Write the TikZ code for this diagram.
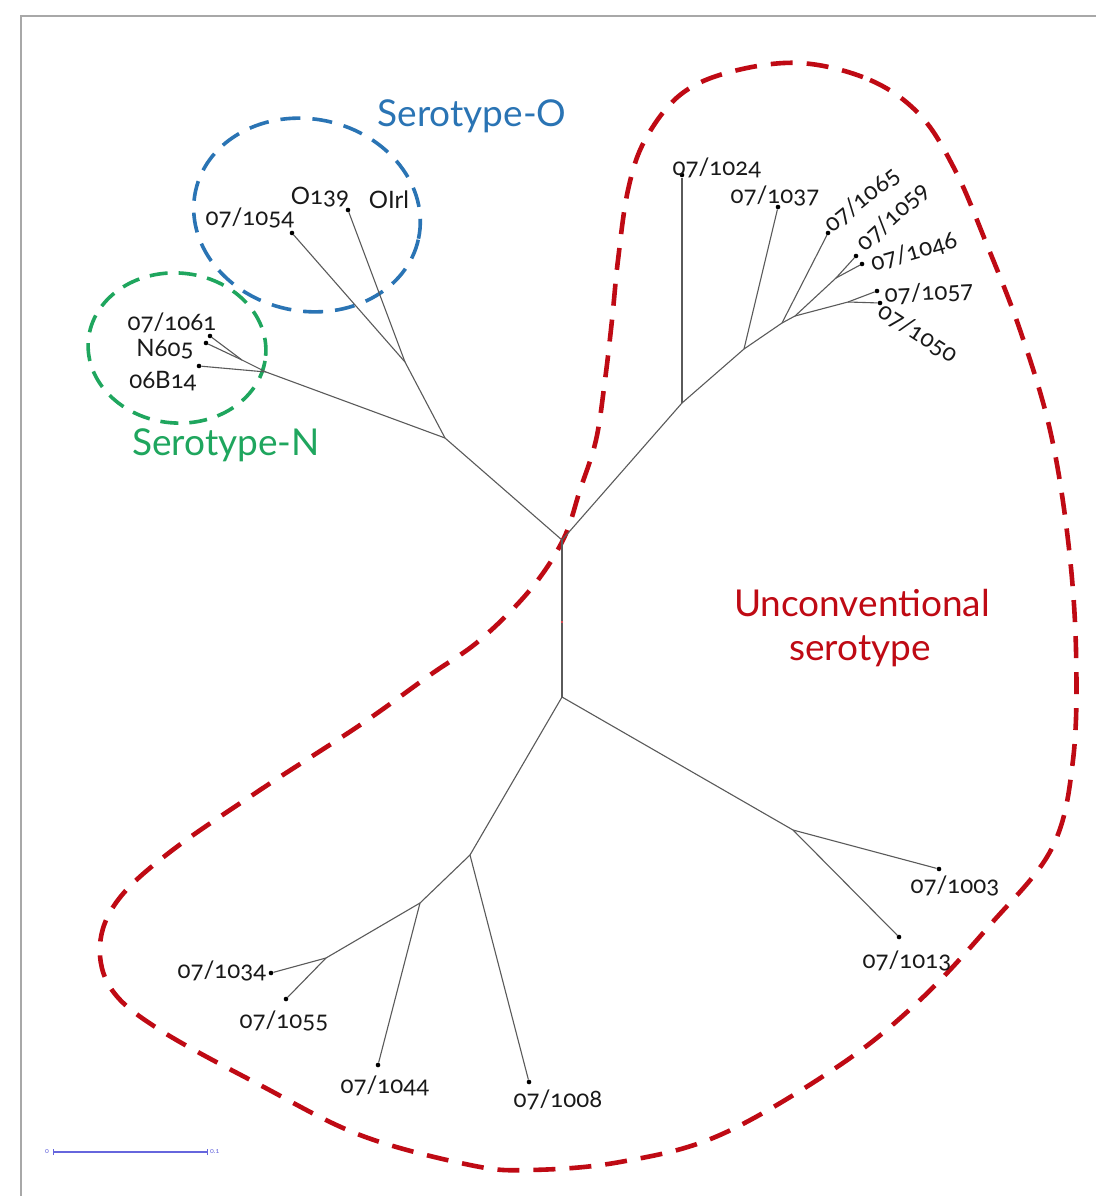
\documentclass[tikz,border=0pt]{standalone}
\usepackage{fontspec}
\setmainfont{Lato}[Numbers=OldStyle]
\definecolor{treegray}{HTML}{5A5A5A}
\definecolor{serO}{HTML}{2A74B4}
\definecolor{serN}{HTML}{1FA65E}
\definecolor{serU}{HTML}{BF0A14}
\definecolor{scaleblue}{HTML}{6666DD}
\definecolor{framegray}{HTML}{A8A8A8}
\begin{document}
\begin{tikzpicture}[x=1pt,y=-1pt,
  branch/.style={draw=treegray, line width=1.1pt},
  leaf/.style={circle, fill=black, inner sep=0pt, minimum size=4.6pt},
  lab/.style={font=\fontsize{24}{24}\selectfont, inner sep=0pt, text=black!90},
  grp/.style={font=\fontsize{37}{37}\selectfont, inner sep=0pt},
  ringO/.style={draw=serO, line width=3.6pt, dash pattern=on 20pt off 12pt},
  ringN/.style={draw=serN, line width=3.6pt, dash pattern=on 18pt off 11pt},
  ringU/.style={draw=serU, line width=4.6pt, dash pattern=on 22pt off 14pt}]
\useasboundingbox (0,0) rectangle (1096,1196);
\fill[white] (0,0) rectangle (1096,1196);
% frame
\draw[framegray, line width=2pt] (21,1196) -- (21,16) -- (1096,16);

% group outlines
\draw[ringO, rotate around={-12:(307,215)}] (307,215) ellipse [x radius=114pt, y radius=96pt];
\draw[ringN, rotate around={-5:(177,348)}] (177,348) ellipse [x radius=89pt, y radius=75pt];
\draw[ringU] plot[smooth cycle, tension=0.6] coordinates {
 (800,63) (870,80) (920,115) (955,170) (985,240) (1020,330) (1050,430)
 (1068,540) (1076,650) (1073,760) (1052,848) (990,925) (920,1000)
 (840,1065) (720,1135) (620,1162) (530,1170) (470,1165) (360,1135) (260,1085)
 (160,1030) (112,990) (100,945) (118,900) (170,852) (260,790) (360,725)
 (430,675) (480,640) (530,590) (563,540) (580,490) (596,440) (605,380)
 (612,320) (618,260) (628,190) (645,140) (680,95) (730,72)};

% internal coordinates
\coordinate (A) at (562,540);
\coordinate (B) at (562,697);
\coordinate (C) at (445,438);
\coordinate (D) at (405,362);
\coordinate (E) at (266,372);
\coordinate (F) at (242,360);
\coordinate (G) at (682,403);
\coordinate (H) at (744,349);
\coordinate (I) at (782,323);
\coordinate (J) at (795,316);
\coordinate (K) at (836,278);
\coordinate (L) at (848,302);
\coordinate (M) at (793,830);
\coordinate (N) at (470,855);
\coordinate (O) at (420,903);
\coordinate (P) at (326,958);

% leaves
\node[leaf] (l1054) at (292,233) {};
\node[leaf] (lOIrl) at (348,210) {};
\node[leaf] (l1061) at (210,336) {};
\node[leaf] (lN605) at (206,343) {};
\node[leaf] (l06B14) at (199,366) {};
\node[leaf] (l1024) at (682,175) {};
\node[leaf] (l1037) at (778,207) {};
\node[leaf] (l1065) at (828,233) {};
\node[leaf] (l1059) at (856,256) {};
\node[leaf] (l1046) at (862,264) {};
\node[leaf] (l1057) at (877,291) {};
\node[leaf] (l1050) at (880,303) {};
\node[leaf] (l1003) at (939,869) {};
\node[leaf] (l1013) at (899,937) {};
\node[leaf] (l1008) at (529,1082) {};
\node[leaf] (l1044) at (378,1065) {};
\node[leaf] (l1034) at (271,973) {};
\node[leaf] (l1055) at (286,999) {};
\node[circle, fill=serU, inner sep=0pt, minimum size=2.2pt] (R) at (562,622) {};

% branches
\draw[branch] (A) -- (R) -- (B);
\draw[branch] (A) -- (C) -- (D) -- (l1054);
\draw[branch] (D) -- (lOIrl);
\draw[branch] (C) -- (E) -- (l06B14);
\draw[branch] (E) -- (F) -- (l1061);
\draw[branch] (F) -- (lN605);
\draw[branch] (A) -- (G) -- (H) -- (I) -- (J);
\draw[branch] (G) -- (l1024);
\draw[branch] (H) -- (l1037);
\draw[branch] (I) -- (l1065);
\draw[branch] (J) -- (K) -- (l1059);
\draw[branch] (K) -- (l1046);
\draw[branch] (J) -- (L) -- (l1057);
\draw[branch] (L) -- (l1050);
\draw[branch] (B) -- (M) -- (l1003);
\draw[branch] (M) -- (l1013);
\draw[branch] (B) -- (N) -- (l1008);
\draw[branch] (N) -- (O) -- (l1044);
\draw[branch] (O) -- (P) -- (l1034);
\draw[branch] (P) -- (l1055);

% leaf labels
\node[lab] (t1054) at (250,218) {07/1054};
\node[lab] (tO139) at (320,197) {O139};
\node[lab] (tOIrl) at (389,200) {OIrl};
\node[lab] (t1061) at (172,323) {07/1061};
\node[lab] (tN605) at (165,349) {N605};
\node[lab] (t06B14) at (163,381) {06B14};
\node[lab] (t1024) at (717,168) {07/1024};
\node[lab] (t1037) at (775,196) {07/1037};
\node[lab, rotate=39] (t1065) at (862,200) {07/1065};
\node[lab, rotate=43] (t1059) at (893,217) {07/1059};
\node[lab, rotate=16] (t1046) at (914,252) {07/1046};
\node[lab, rotate=3] (t1057) at (929,293) {07/1057};
\node[lab, rotate=-33] (t1050) at (918,333) {07/1050};
\node[lab] (t1003) at (955,886) {07/1003};
\node[lab] (t1013) at (907,961) {07/1013};
\node[lab] (t1034) at (222,971) {07/1034};
\node[lab] (t1055) at (284,1021) {07/1055};
\node[lab] (t1044) at (385,1086) {07/1044};
\node[lab] (t1008) at (558,1100) {07/1008};

% group labels
\node[grp, text=serO] (gO) at (472,116) {Serotype-O};
\node[grp, text=serN] (gN) at (226,445) {Serotype-N};
\node[grp, text=serU] (gU1) at (862,603) {Unconventional};
\node[grp, text=serU] (gU2) at (860,651) {serotype};

% scale bar
\coordinate (s0) at (53,1152);
\coordinate (s1) at (207,1152);
\draw[scaleblue, line width=1.3pt] (s0) -- (s1);
\draw[scaleblue, line width=1pt] ([yshift=-3pt]s0) -- ([yshift=3pt]s0);
\draw[scaleblue, line width=1pt] ([yshift=-3pt]s1) -- ([yshift=3pt]s1);
\node[font=\fontsize{7}{7}\selectfont, text=scaleblue, inner sep=0pt, anchor=east] (sl0) at (49,1152) {0};
\node[font=\fontsize{7}{7}\selectfont, text=scaleblue, inner sep=0pt, anchor=west] (sl1) at (210,1152) {0.1};
\end{tikzpicture}
\end{document}
